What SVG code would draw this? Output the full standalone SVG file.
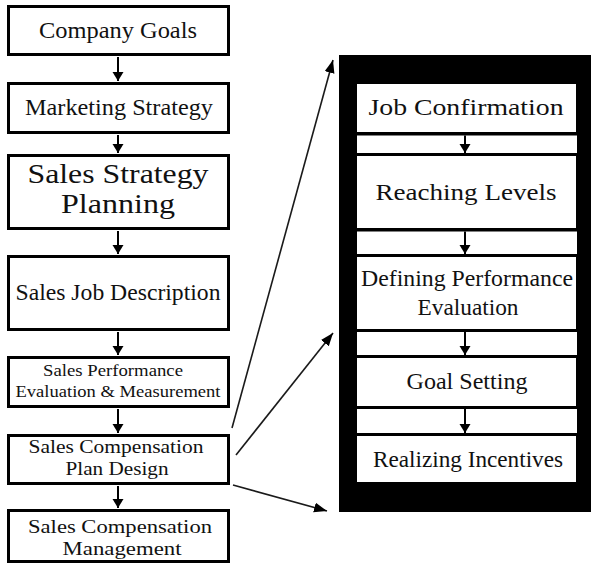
<svg xmlns="http://www.w3.org/2000/svg" width="591" height="564" viewBox="0 0 591 564">
  <style>
    .box { fill: #ffffff; stroke: #000000; stroke-width: 3; }
    .inner { fill: #ffffff; stroke: none; }
    .t { font-family: "Liberation Serif", "Times New Roman", serif; fill: #111111; text-anchor: middle; }
    .link { stroke: #1a1a1a; stroke-width: 1.6; fill: none; }
    .step { stroke: #000000; stroke-width: 2; fill: none; }
  </style>
  <defs>
    <marker id="head" markerUnits="userSpaceOnUse" markerWidth="14" markerHeight="12" refX="13" refY="5" orient="auto">
      <path d="M0,0 L13,5 L0,10 Z" fill="#000000"/>
    </marker>
    <marker id="small" markerUnits="userSpaceOnUse" markerWidth="10" markerHeight="12" refX="9" refY="5.5" orient="auto">
      <path d="M0,0 L9,5.5 L0,11 Z" fill="#000000"/>
    </marker>
  </defs>

  <rect width="591" height="564" fill="#ffffff"/>

  <!-- left column: planning process -->
  <g id="company-goals">
    <rect class="box" x="8.5" y="6.5" width="220" height="48"/>
    <text class="t" x="118" y="38" font-size="23.5" textLength="158" lengthAdjust="spacingAndGlyphs">Company Goals</text>
  </g>
  <g id="marketing-strategy">
    <rect class="box" x="8.5" y="83.5" width="220" height="49"/>
    <text class="t" x="119" y="115" font-size="23.5" textLength="188" lengthAdjust="spacingAndGlyphs">Marketing Strategy</text>
  </g>
  <g id="sales-strategy-planning">
    <rect class="box" x="8.5" y="155.5" width="220" height="73"/>
    <text class="t" x="118" y="183" font-size="28" textLength="181" lengthAdjust="spacingAndGlyphs">Sales Strategy</text>
    <text class="t" x="118" y="213" font-size="28" textLength="114" lengthAdjust="spacingAndGlyphs">Planning</text>
  </g>
  <g id="sales-job-description">
    <rect class="box" x="8.5" y="256.5" width="220" height="73"/>
    <text class="t" x="118" y="300" font-size="24" textLength="205" lengthAdjust="spacingAndGlyphs">Sales Job Description</text>
  </g>
  <g id="sales-performance">
    <rect class="box" x="8.5" y="357.5" width="220" height="49"/>
    <text class="t" x="113" y="376" font-size="16.5" textLength="140" lengthAdjust="spacingAndGlyphs">Sales Performance</text>
    <text class="t" x="118" y="397" font-size="16.5" textLength="205" lengthAdjust="spacingAndGlyphs">Evaluation &amp; Measurement</text>
  </g>
  <g id="compensation-plan-design">
    <rect class="box" x="8.5" y="435.5" width="220" height="48"/>
    <text class="t" x="116" y="453" font-size="19.5" textLength="175" lengthAdjust="spacingAndGlyphs">Sales Compensation</text>
    <text class="t" x="117" y="475" font-size="19.5" textLength="103" lengthAdjust="spacingAndGlyphs">Plan Design</text>
  </g>
  <g id="compensation-management">
    <rect class="box" x="8.5" y="510.5" width="220" height="51"/>
    <text class="t" x="120" y="533" font-size="19.5" textLength="184" lengthAdjust="spacingAndGlyphs">Sales Compensation</text>
    <text class="t" x="122" y="555" font-size="19.5" textLength="119" lengthAdjust="spacingAndGlyphs">Management</text>
  </g>

  <!-- right column: compensation plan steps on a black panel -->
  <g id="plan-panel">
    <rect x="339" y="55" width="252" height="457" fill="#000000"/>
  </g>
  <g id="job-confirmation">
    <rect class="inner" x="357" y="84" width="219" height="48"/>
    <text class="t" x="466" y="115" font-size="24" textLength="195" lengthAdjust="spacingAndGlyphs">Job Confirmation</text>
  </g>
  <g id="gap-1"><rect class="inner" x="357" y="135.5" width="220" height="17.5"/></g>
  <g id="reaching-levels">
    <rect class="inner" x="357" y="156" width="219" height="72"/>
    <text class="t" x="466" y="200" font-size="23.5" textLength="181" lengthAdjust="spacingAndGlyphs">Reaching Levels</text>
  </g>
  <g id="gap-2"><rect class="inner" x="357" y="231.5" width="220" height="22.5"/></g>
  <g id="defining-performance">
    <rect class="inner" x="357" y="257" width="219" height="72"/>
    <text class="t" x="467" y="286" font-size="23.5" textLength="212" lengthAdjust="spacingAndGlyphs">Defining Performance</text>
    <text class="t" x="468" y="315" font-size="23.5" textLength="101" lengthAdjust="spacingAndGlyphs">Evaluation</text>
  </g>
  <g id="gap-3"><rect class="inner" x="357" y="332" width="220" height="23"/></g>
  <g id="goal-setting">
    <rect class="inner" x="357" y="358" width="219" height="48"/>
    <text class="t" x="467" y="389" font-size="24" textLength="121" lengthAdjust="spacingAndGlyphs">Goal Setting</text>
  </g>
  <g id="gap-4"><rect class="inner" x="357" y="409" width="220" height="24"/></g>
  <g id="realizing-incentives">
    <rect class="inner" x="357" y="436" width="219" height="46"/>
    <text class="t" x="468" y="467" font-size="24" textLength="190" lengthAdjust="spacingAndGlyphs">Realizing Incentives</text>
  </g>

  <!-- connectors -->
  <g id="connectors">
    <line class="step" x1="118" y1="57" x2="118" y2="81" marker-end="url(#small)"/>
    <line class="step" x1="118" y1="135" x2="118" y2="153" marker-end="url(#small)"/>
    <line class="step" x1="118" y1="231" x2="118" y2="254" marker-end="url(#small)"/>
    <line class="step" x1="118" y1="332" x2="118" y2="355" marker-end="url(#small)"/>
    <line class="step" x1="118" y1="409" x2="118" y2="433" marker-end="url(#small)"/>
    <line class="step" x1="118" y1="486" x2="118" y2="508" marker-end="url(#small)"/>

    <line class="step" x1="465" y1="135.5" x2="465" y2="153" marker-end="url(#small)"/>
    <line class="step" x1="465" y1="231.5" x2="465" y2="254" marker-end="url(#small)"/>
    <line class="step" x1="465" y1="332" x2="465" y2="355" marker-end="url(#small)"/>
    <line class="step" x1="465" y1="409" x2="465" y2="433" marker-end="url(#small)"/>

    <line class="link" x1="232" y1="428" x2="333" y2="60" marker-end="url(#head)"/>
    <line class="link" x1="236" y1="455" x2="333" y2="333" marker-end="url(#head)"/>
    <line class="link" x1="233" y1="485" x2="327" y2="511" marker-end="url(#head)"/>
  </g>
</svg>
